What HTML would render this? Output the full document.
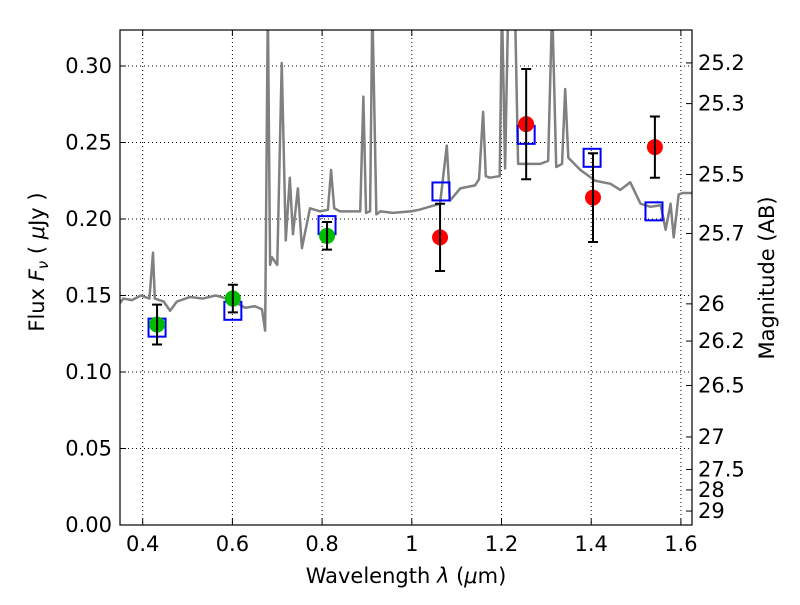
<!DOCTYPE html>
<html><head><meta charset="utf-8"><style>
body{margin:0;background:#fff;font-family:"Liberation Sans","DejaVu Sans",sans-serif;}
svg text{font-family:"DejaVu Sans","Liberation Sans",sans-serif;}
</style></head><body>
<svg id="c" width="800" height="600"></svg>
<script>
const specWave=[0.349,0.357,0.376,0.396,0.415,0.423,0.427,0.447,0.461,0.476,0.505,0.534,0.563,0.599,0.628,0.650,0.666,0.673,0.679,0.684,0.688,0.700,0.710,0.719,0.728,0.735,0.746,0.755,0.773,0.795,0.813,0.820,0.827,0.840,0.885,0.892,0.898,0.907,0.912,0.921,0.930,0.957,0.997,1.016,1.063,1.078,1.085,1.108,1.141,1.150,1.159,1.165,1.174,1.196,1.201,1.208,1.215,1.221,1.230,1.237,1.286,1.304,1.313,1.322,1.335,1.342,1.349,1.376,1.409,1.443,1.465,1.487,1.510,1.532,1.555,1.566,1.577,1.584,1.595,1.604,1.626];
const specFlux=[0.145,0.148,0.147,0.150,0.148,0.178,0.148,0.146,0.140,0.146,0.149,0.148,0.150,0.147,0.142,0.143,0.141,0.127,0.34,0.17,0.175,0.17,0.302,0.186,0.227,0.19,0.22,0.181,0.207,0.205,0.206,0.232,0.207,0.205,0.205,0.28,0.204,0.205,0.34,0.203,0.205,0.204,0.205,0.206,0.21,0.248,0.212,0.22,0.222,0.226,0.27,0.228,0.227,0.228,0.34,0.233,0.34,0.34,0.34,0.236,0.236,0.238,0.34,0.234,0.236,0.285,0.24,0.232,0.225,0.223,0.219,0.224,0.21,0.208,0.209,0.193,0.21,0.188,0.216,0.217,0.217];
const obsWave=[0.432,0.601,0.811,1.063,1.255,1.404,1.542];
const obsFlux=[0.131,0.148,0.189,0.188,0.262,0.214,0.247];
const obsErr=[0.013,0.009,0.009,0.022,0.036,0.029,0.020];
const obsColor=['#00bb00','#00bb00','#00bb00','#ff0000','#ff0000','#ff0000','#ff0000'];
const modWave=[0.432,0.601,0.811,1.065,1.255,1.402,1.540];
const modFlux=[0.129,0.140,0.196,0.218,0.255,0.240,0.205];
const xTicks=[0.4,0.6,0.8,1.0,1.2,1.4,1.6];
const xTickLabels=['0.4','0.6','0.8','1','1.2','1.4','1.6'];
const yTicks=[0,0.05,0.10,0.15,0.20,0.25,0.30];
const yTickLabels=['0.00','0.05','0.10','0.15','0.20','0.25','0.30'];
const magTicks=[25.2,25.3,25.5,25.7,26,26.2,26.5,27,27.5,28,29];
const magLabels=['25.2','25.3','25.5','25.7','26','26.2','26.5','27','27.5','28','29'];

const L=120,R=692,T=30,B=525;
const xmin=0.4-22.7/448.5,xmax=0.4+(692-142.7)/448.5,ymin=0,ymax=(525-30)/1530;
const X=v=>L+(v-xmin)/(xmax-xmin)*(R-L);
const Y=v=>B-(v-ymin)/(ymax-ymin)*(B-T);
const svg=document.getElementById('c');
const NS='http://www.w3.org/2000/svg';
function mk(t,a,p){const e=document.createElementNS(NS,t);for(const k in a)e.setAttribute(k,a[k]);(p||svg).appendChild(e);return e;}
mk('defs',{}).innerHTML='<clipPath id="cp"><rect x="'+L+'" y="'+T+'" width="'+(R-L)+'" height="'+(B-T)+'"/></clipPath>';
xTicks.forEach((v,i)=>{
 const g=mk('line',{x1:X(v),x2:X(v),y1:T,y2:B,stroke:'#000','stroke-dasharray':'1,3','stroke-width':1});
 
 mk('line',{x1:X(v),x2:X(v),y1:B,y2:B-6,stroke:'#000'});mk('line',{x1:X(v),x2:X(v),y1:T,y2:T+6,stroke:'#000'});
 const t=mk('text',{x:X(v),y:B+26,'text-anchor':'middle','font-size':21});t.textContent=xTickLabels[i];
 
});
yTicks.forEach((v,i)=>{
 const g=mk('line',{x1:L,x2:R,y1:Y(v),y2:Y(v),stroke:'#000','stroke-dasharray':'1,3','stroke-width':1});
 
 mk('line',{x1:L,x2:L+6,y1:Y(v),y2:Y(v),stroke:'#000'});
 const t=mk('text',{x:L-8,y:Y(v)+7,'text-anchor':'end','font-size':21});t.textContent=yTickLabels[i];
 
});
magTicks.forEach((m,i)=>{
 const f=Math.pow(10,(23.9-m)/2.5);
 mk('line',{x1:R-6,x2:R,y1:Y(f),y2:Y(f),stroke:'#000'});
 const t=mk('text',{x:R+6,y:Y(f)+7,'font-size':21});t.textContent=magLabels[i];
 
});
const cg=mk('g',{'clip-path':'url(#cp)'});
const sp=mk('polyline',{points:specWave.map((w,i)=>X(w)+','+Y(specFlux[i])).join(' '),fill:'none',stroke:'#808080','stroke-width':2.5,'stroke-linejoin':'round'},cg);

modWave.forEach((w,i)=>{
 const r=mk('rect',{x:X(w)-8.5,y:Y(modFlux[i])-9,width:17,height:18,fill:'none',stroke:'#0000ff','stroke-width':2},cg);
 
});
obsWave.forEach((w,i)=>{
 const x=X(w),y1=Y(obsFlux[i]-obsErr[i]),y2=Y(obsFlux[i]+obsErr[i]);
 const c=mk('circle',{cx:x,cy:Y(obsFlux[i]),r:8,fill:obsColor[i]},cg);
 
 const e=mk('path',{d:`M${x},${y1}V${y2}M${x-5},${y1}h10M${x-5},${y2}h10`,stroke:'#000','stroke-width':2,fill:'none'},cg);
 
});
const fr=mk('rect',{x:L,y:T,width:R-L,height:B-T,fill:'none',stroke:'#000','stroke-width':1.2});

const xl=mk('text',{x:406,y:583,'text-anchor':'middle','font-size':21});xl.innerHTML='Wavelength  <tspan font-style="italic">λ</tspan> (<tspan font-style="italic">μ</tspan>m)';

const yl=mk('text',{x:0,y:0,'text-anchor':'middle','font-size':21,transform:'translate(44,262) rotate(-90)'});yl.innerHTML='Flux  <tspan font-style="italic">F</tspan><tspan font-style="italic" font-size="15" dy="4">ν</tspan><tspan dy="-4">  (  </tspan><tspan font-style="italic">μ</tspan>Jy )';

const ml=mk('text',{x:0,y:0,'text-anchor':'middle','font-size':21,transform:'translate(774,278) rotate(-90)'});ml.textContent='Magnitude (AB)';

</script></body></html>
